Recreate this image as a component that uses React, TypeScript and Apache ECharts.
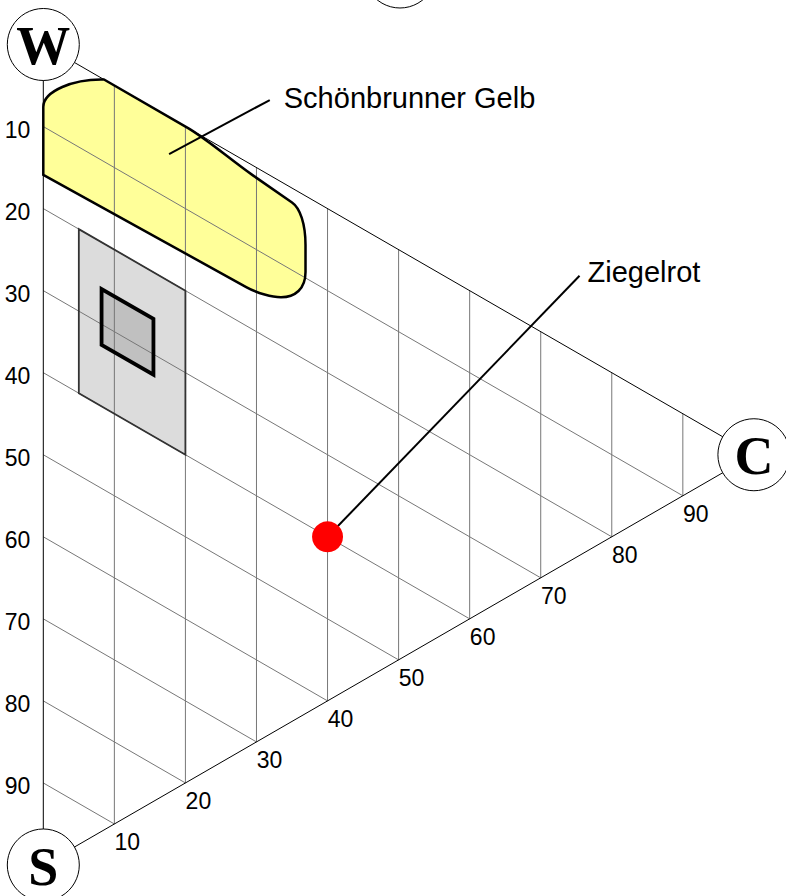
import React, { useEffect, useRef } from "react";
import * as echarts from "echarts";

// Scale ticks (percent) along the blackness (S) and chromaticness (C) edges
const TICKS = [10, 20, 30, 40, 50, 60, 70, 80, 90];
const TICK_LABELS = ["10", "20", "30", "40", "50", "60", "70", "80", "90"];

// Triangle corners, given as [C %, S %]
const VERTEX_LABELS = ["W", "S", "C"];
const VERTEX_C = [0, 0, 100];
const VERTEX_S = [0, 100, 0];

// Schönbrunner Gelb area outline: path commands with (C %, S %) pairs
const GELB_OUTLINE: [string, number[]][] = [
  ["M", [0, 15.9]],
  ["L", [0, 7.62]],
  ["C", [0, 5.67, 4.28, 2.04, 8.54, 0]],
  ["L", [20.5, 0]],
  ["C", [23.5, 0.1, 26, 0.8, 29.5, 1.2]],
  ["L", [35.0, 1.75]],
  ["C", [36.13, 1.85, 36.9, 3.43, 36.9, 5.99]],
  ["L", [36.9, 9.28]],
  ["C", [36.9, 11.35, 35.42, 13.1, 33.45, 14.08]],
  ["C", [32.18, 14.72, 30.17, 15.23, 28.62, 15.28]],
  ["L", [0, 15.9]],
  ["Z", []],
];

// Grey tolerance areas, corners in C % and S %
const GRAU_AUSSEN_C = [5, 5, 20, 20];
const GRAU_AUSSEN_S = [20, 40, 40, 20];
const GRAU_INNEN_C = [8.2, 8.2, 15.5, 15.5];
const GRAU_INNEN_S = [25.7, 32.5, 32.5, 25.7];

// Ziegelrot sample
const ZIEGELROT_C = [40];
const ZIEGELROT_S = [40];

// Annotation names and the point inside the yellow area the leader starts from
const GELB_NAME = "Schönbrunner Gelb";
const ROT_NAME = "Ziegelrot";
const GELB_ANCHOR_C = [17.7];
const GELB_ANCHOR_S = [4.5];

// Ternary (C, S) -> sheared plane: X along C, Y down the W–S edge
const xy = (c: number, s: number) => [c, s + c / 2];

const SANS = "'Liberation Sans', Arial, Helvetica, sans-serif";
const SERIF = "'Liberation Serif', 'Times New Roman', serif";

export default function App() {
  const ref = useRef<HTMLDivElement>(null);

  useEffect(() => {
    if (!ref.current) return;
    const chart = echarts.init(ref.current, undefined, { renderer: "svg" });

    const gridSegments = [
      ...TICKS.map((k) => [k, 0, k, 100 - k]), // constant chromaticness
      ...TICKS.map((k) => [0, k, 100 - k, k]), // constant blackness
    ];
    const edgeSegments = [
      [0, 0, 0, 100],
      [0, 100, 100, 0],
      [0, 0, 100, 0],
    ];

    const pathFrom = (api: any) =>
      GELB_OUTLINE.map(([cmd, v]) => {
        const pts: string[] = [];
        for (let i = 0; i < v.length; i += 2) {
          const p = api.coord(xy(v[i], v[i + 1]));
          pts.push(`${p[0].toFixed(2)} ${p[1].toFixed(2)}`);
        }
        return cmd + (pts.length ? " " + pts.join(" ") : "");
      }).join(" ");

    const polyPoints = (api: any, cs: number[], ss: number[]) =>
      cs.map((c, i) => api.coord(xy(c, ss[i])));

    const lineEl = (api: any, v: number[], stroke: string, width: number) => {
      const a = api.coord(xy(v[0], v[1]));
      const b = api.coord(xy(v[2], v[3]));
      return {
        type: "line",
        shape: { x1: a[0], y1: a[1], x2: b[0], y2: b[1] },
        style: { stroke, lineWidth: width },
      };
    };

    const option: any = {
      animation: false,
      backgroundColor: "#ffffff",
      grid: { left: 43.3, top: 44.5, width: 710.6, height: 820.5 },
      xAxis: { type: "value", min: 0, max: 100, show: false },
      yAxis: { type: "value", min: 0, max: 100, inverse: true, show: false },
      graphic: [
        {
          type: "circle",
          shape: { cx: 400, cy: -28, r: 36 },
          style: { fill: "#ffffff", stroke: "#000000", lineWidth: 1 },
          z: 100,
        },
      ],
      series: [
        // area fills
        {
          type: "custom",
          z: 1,
          silent: true,
          clip: false,
          data: [[0, 0]],
          renderItem: (_p: any, api: any) => ({
            type: "group",
            children: [
              {
                type: "path",
                shape: { pathData: pathFrom(api) },
                style: { fill: "#ffff99", stroke: "none" },
              },
              {
                type: "polygon",
                shape: { points: polyPoints(api, GRAU_AUSSEN_C, GRAU_AUSSEN_S) },
                style: { fill: "#dcdcdc", stroke: "none" },
              },
              {
                type: "polygon",
                shape: { points: polyPoints(api, GRAU_INNEN_C, GRAU_INNEN_S) },
                style: { fill: "#c0c0c0", stroke: "none" },
              },
            ],
          }),
        },
        // grid lines
        {
          type: "custom",
          z: 2,
          silent: true,
          clip: false,
          data: gridSegments,
          renderItem: (_p: any, api: any) =>
            lineEl(api, [api.value(0), api.value(1), api.value(2), api.value(3)], "#777777", 1),
        },
        // triangle edges
        {
          type: "custom",
          z: 3,
          silent: true,
          clip: false,
          data: edgeSegments,
          renderItem: (_p: any, api: any) =>
            lineEl(api, [api.value(0), api.value(1), api.value(2), api.value(3)], "#000000", 1),
        },
        // area outlines
        {
          type: "custom",
          z: 4,
          silent: true,
          clip: false,
          data: [[0, 0]],
          renderItem: (_p: any, api: any) => ({
            type: "group",
            children: [
              {
                type: "path",
                shape: { pathData: pathFrom(api) },
                style: { fill: "none", stroke: "#000000", lineWidth: 2.5, lineJoin: "round" },
              },
              {
                type: "polygon",
                shape: { points: polyPoints(api, GRAU_AUSSEN_C, GRAU_AUSSEN_S) },
                style: { fill: "none", stroke: "#333333", lineWidth: 1.8 },
              },
              {
                type: "polygon",
                shape: { points: polyPoints(api, GRAU_INNEN_C, GRAU_INNEN_S) },
                style: { fill: "none", stroke: "#000000", lineWidth: 3.8 },
              },
            ],
          }),
        },
        // annotations with leader lines
        {
          type: "custom",
          z: 5,
          silent: true,
          clip: false,
          data: [
            [GELB_ANCHOR_C[0], GELB_ANCHOR_S[0], 0],
            [ZIEGELROT_C[0], ZIEGELROT_S[0], 1],
          ],
          renderItem: (_p: any, api: any) => {
            const which = api.value(2);
            const a = api.coord(xy(api.value(0), api.value(1)));
            const off = which === 0 ? [100.7, -54] : [252, -261];
            const txtOff = which === 0 ? [14, -2.5] : [8, -4];
            const b = [a[0] + off[0], a[1] + off[1]];
            return {
              type: "group",
              children: [
                {
                  type: "line",
                  shape: { x1: a[0], y1: a[1], x2: b[0], y2: b[1] },
                  style: { stroke: "#000000", lineWidth: 2 },
                },
                {
                  type: "text",
                  x: b[0] + txtOff[0],
                  y: b[1] + txtOff[1],
                  style: {
                    text: which === 0 ? GELB_NAME : ROT_NAME,
                    fill: "#000000",
                    fontSize: 29,
                    fontFamily: SANS,
                    align: "left",
                    verticalAlign: "middle",
                  },
                },
              ],
            };
          },
        },
        // Ziegelrot point
        {
          type: "scatter",
          z: 6,
          silent: true,
          symbol: "circle",
          symbolSize: 31,
          itemStyle: { color: "#ff0000", opacity: 1 },
          data: ZIEGELROT_C.map((c, i) => xy(c, ZIEGELROT_S[i])),
        },
        // tick labels: blackness down the left edge, chromaticness along the bottom edge
        {
          type: "custom",
          z: 7,
          silent: true,
          clip: false,
          data: [
            ...TICKS.map((k, i) => [k, 0, i]),
            ...TICKS.map((k, i) => [k, 1, i]),
          ],
          renderItem: (_p: any, api: any) => {
            const k = api.value(0);
            const side = api.value(1);
            const label = TICK_LABELS[api.value(2)];
            if (side === 0) {
              const p = api.coord(xy(0, k));
              return {
                type: "text",
                x: p[0] - 13,
                y: p[1] + 3,
                style: {
                  text: label,
                  fill: "#000000",
                  fontSize: 23,
                  fontFamily: SANS,
                  align: "right",
                  verticalAlign: "middle",
                },
              };
            }
            const p = api.coord(xy(k, 100 - k));
            return {
              type: "text",
              x: p[0] + 13,
              y: p[1] + 18,
              style: {
                text: label,
                fill: "#000000",
                fontSize: 23,
                fontFamily: SANS,
                align: "center",
                verticalAlign: "middle",
              },
            };
          },
        },
        // corner badges
        {
          type: "custom",
          z: 8,
          silent: true,
          clip: false,
          data: VERTEX_LABELS.map((_, i) => [VERTEX_C[i], VERTEX_S[i], i]),
          renderItem: (_p: any, api: any) => {
            const p = api.coord(xy(api.value(0), api.value(1)));
            return {
              type: "group",
              children: [
                {
                  type: "circle",
                  shape: { cx: p[0], cy: p[1], r: 36 },
                  style: { fill: "#ffffff", stroke: "#000000", lineWidth: 1 },
                },
                {
                  type: "text",
                  x: p[0],
                  y: p[1] + 1.5,
                  style: {
                    text: VERTEX_LABELS[api.value(2)],
                    fill: "#000000",
                    fontSize: 54,
                    fontWeight: "bold",
                    fontFamily: SERIF,
                    align: "center",
                    verticalAlign: "middle",
                  },
                },
              ],
            };
          },
        },
      ],
    };

    chart.setOption(option);
    return () => chart.dispose();
  }, []);

  return (
    <div
      ref={ref}
      style={{ position: "fixed", left: 0, top: 0, width: 786, height: 896 }}
    />
  );
}
